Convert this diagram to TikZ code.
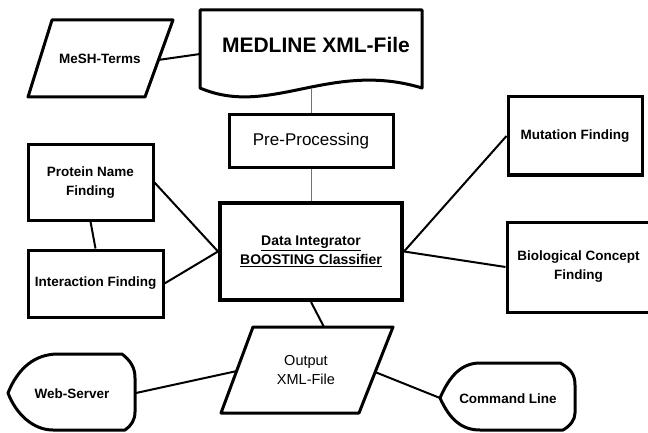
\documentclass[tikz,border=0pt]{standalone}
\usepackage{fontspec}
\setmainfont{Liberation Sans}
\usetikzlibrary{positioning}

\begin{document}
\begin{tikzpicture}[x=1pt,y=-1pt,
  box/.style={draw, line width=3pt, align=center, inner sep=2pt,
    font=\fontsize{13.5}{19}\selectfont\bfseries},
  outline/.style={draw, line width=3pt, line join=round},
  lbl/.style={align=center, font=\fontsize{13.5}{19}\selectfont\bfseries},
  link/.style={line width=2pt},
  thinlink/.style={line width=0.8pt, black!55}]
\useasboundingbox (0,0) rectangle (648,433);
% input side
\draw [outline] (28,97) -- (52,20) -- (173,20) -- (145,97) -- cycle;
\node [lbl] (mesh) at (100,59) {MeSH-Terms};
\coordinate (meshE) at (158,60);
\draw [outline] (200,10) -- (422,10) -- (422,88)
  .. controls (330,60) and (270,118) .. (200,88) -- cycle;
\node [lbl, font=\fontsize{21}{24}\selectfont\bfseries] (medline) at (316,45) {MEDLINE XML-File};
\coordinate (medlineW) at (200,54);
\coordinate (medlineS) at (311,88);
\node [box, font=\fontsize{17}{20}\selectfont, minimum width=164, minimum height=53] (pre) at (311,141.5) {Pre-Processing};
% classifier and finders
\node [box, line width=4pt, minimum width=182, minimum height=97, font=\fontsize{14}{19}\selectfont\bfseries] (data) at (311,251.5)
  {\underline{Data Integrator}\\\underline{BOOSTING Classifier}};
\node [box, minimum width=125, minimum height=75] (protein) at (90.5,182.5) {Protein Name\\Finding};
\node [box, minimum width=135, minimum height=67] (interaction) at (95.5,283.5) {Interaction Finding};
\node [box, minimum width=134, minimum height=78] (mutation) at (575,136) {Mutation Finding};
\node [box, minimum width=143, minimum height=90] (bio) at (578.5,267) {Biological Concept\\Finding};
% output side
\draw [outline] (221,413) -- (253,327) -- (393,327) -- (359,413) -- cycle;
\node [lbl, font=\fontsize{14.5}{19}\selectfont] (output) at (306,370) {Output\\XML-File};
\coordinate (outputN) at (324,327);
\coordinate (outputW) at (237,371);
\coordinate (outputE) at (375,372);
\draw [outline] (8,393) .. controls (18,368) and (35,354) .. (58,354) -- (122,354)
  .. controls (131,361) and (135,368) .. (135,378) -- (135,412)
  .. controls (135,420) and (131,426) .. (125,430) -- (53,430)
  .. controls (33,430) and (16,414) .. (8,393) -- cycle;
\node [lbl] (web) at (72,394) {Web-Server};
\coordinate (webE) at (136,393);
\draw [outline] (440,398) .. controls (450,375) and (462,363) .. (480,363) -- (560,363)
  .. controls (570,368) and (575,374) .. (575,385) -- (575,413)
  .. controls (575,420) and (570,426) .. (563,430) -- (480,430)
  .. controls (462,430) and (450,420) .. (440,398) -- cycle;
\node [lbl] (cmd) at (508,399) {Command Line};
\coordinate (cmdW) at (440,398);
% connectors
\draw [link] (meshE) -- (medlineW);
\draw [thinlink] (medlineS) -- (pre.north);
\draw [thinlink] (pre.south) -- (data.north);
\draw [link] (protein.south) -- (interaction.north);
\draw [link] (protein.east) -- (data.west);
\draw [link] (interaction.east) -- (data.west);
\draw [link] (data.east) -- (mutation.west);
\draw [link] (data.east) -- (bio.west);
\draw [link] (data.south) -- (outputN);
\draw [link] (webE) -- (outputW);
\draw [link] (outputE) -- (cmdW);
\end{tikzpicture}
\end{document}
